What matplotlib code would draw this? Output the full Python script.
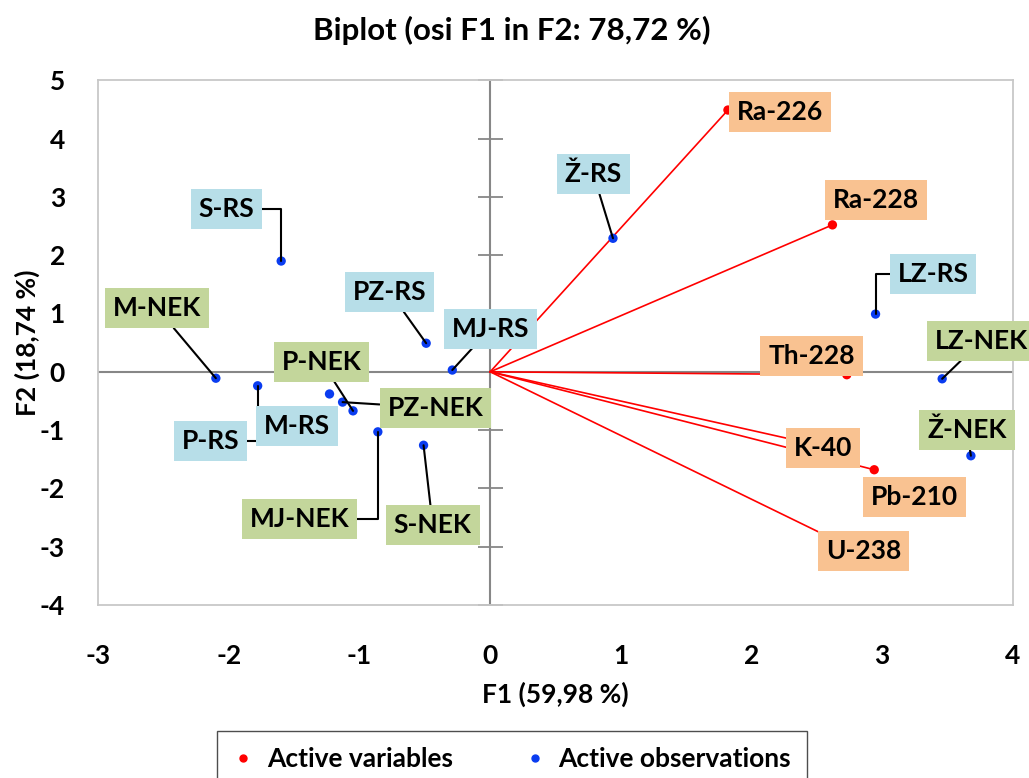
import numpy as np
import matplotlib
matplotlib.use("Agg")
import matplotlib.pyplot as plt
from matplotlib.lines import Line2D

plt.rcParams["font.family"] = ["Lato", "DejaVu Sans"]
plt.rcParams["font.weight"] = "bold"
plt.rcParams["axes.unicode_minus"] = False

# ==== data ====
var_names = ["Ra-226", "Ra-228", "Th-228", "K-40", "Pb-210", "U-238"]
var_x = [1.82, 2.62, 2.73, 2.55, 2.94, 2.70]
var_y = [4.49, 2.52, -0.05, -1.28, -1.68, -2.95]

obs_names = ["Ž-RS", "S-RS", "LZ-RS", "LZ-NEK", "Ž-NEK", "M-NEK", "P-RS",
             "M-RS", "PZ-NEK", "P-NEK", "MJ-NEK", "S-NEK", "MJ-RS", "PZ-RS"]
obs_x = [0.94, -1.60, 2.95, 3.46, 3.68, -2.10, -1.78,
         -1.23, -1.13, -1.05, -0.86, -0.51, -0.29, -0.49]
obs_y = [2.29, 1.90, 0.99, -0.12, -1.44, -0.11, -0.24,
         -0.38, -0.52, -0.67, -1.03, -1.26, 0.03, 0.49]
obs_group = ["RS", "RS", "RS", "NEK", "NEK", "NEK", "RS",
             "RS", "NEK", "NEK", "NEK", "NEK", "RS", "RS"]

xticks = [-3, -2, -1, 0, 1, 2, 3, 4]
yticks = [-4, -3, -2, -1, 0, 1, 2, 3, 4, 5]

# ==== label layout ====
var_label_pos = [(2.22, 4.46), (2.95, 2.95), (2.46, 0.27), (2.55, -1.31),
                 (3.25, -2.15), (2.86, -3.07)]
obs_label_pos = [(0.79, 3.39), (-2.02, 2.79), (3.39, 1.68), (3.76, 0.53),
                 (3.65, -1.00), (-2.55, 1.09), (-2.14, -1.19), (-1.48, -0.93),
                 (-0.42, -0.62), (-1.29, 0.17), (-1.46, -2.53), (-0.44, -2.63),
                 (0.00, 0.74), (-0.77, 1.37)]
elbow = {"S-RS", "LZ-RS", "P-RS", "MJ-NEK"}
no_leader = {"M-RS"}

ORANGE = "#F9C291"
BLUE_BOX = "#B7DEE8"
GREEN_BOX = "#C3D69B"
RED = "#FF0000"
BLUE = "#0A3CF0"
FS = 19

fig = plt.figure(figsize=(10.29, 7.78), dpi=100)
ax = fig.add_axes([98.3 / 1029, 1 - 605 / 778, (1012.7 - 98.3) / 1029, (605 - 80.3) / 778])
ax.set_xlim(-3, 4)
ax.set_ylim(-4, 5)

for s in ax.spines.values():
    s.set_color("#C8C8C8")
    s.set_linewidth(1.3)

# centre axes, ticks only on the vertical one
ax.axhline(0, color="#878787", lw=1.5, zorder=1)
ax.axvline(0, color="#878787", lw=1.5, zorder=1)
ax.plot(np.zeros(len(yticks)), yticks, ls="", marker="_", ms=18, mew=1.3,
        color="#878787", zorder=1, clip_on=False)

ax.set_xticks(xticks)
ax.set_yticks(yticks)
ax.tick_params(length=0, labelsize=FS)
ax.tick_params(axis="x", pad=28)
ax.tick_params(axis="y", pad=24)
for lab in ax.get_xticklabels() + ax.get_yticklabels():
    lab.set_fontweight("bold")

# vectors for variables
for x, y in zip(var_x, var_y):
    ax.plot([0, x], [0, y], color=RED, lw=1.2, zorder=2)
ax.scatter(var_x, var_y, s=45, color=RED, zorder=3, edgecolors="none")
ax.scatter(obs_x, obs_y, s=45, color=BLUE, zorder=3, edgecolors="none")

for name, (lx, ly) in zip(var_names, var_label_pos):
    ax.annotate(name, xy=(lx, ly), ha="center", va="center", fontsize=FS,
                fontweight="bold", zorder=5,
                bbox=dict(boxstyle="square,pad=0.3", fc=ORANGE, ec="none"))

for name, x, y, g, (lx, ly) in zip(obs_names, obs_x, obs_y, obs_group, obs_label_pos):
    fc = BLUE_BOX if g == "RS" else GREEN_BOX
    bbox = dict(boxstyle="square,pad=0.3", fc=fc, ec="none")
    if name in no_leader:
        ax.annotate(name, xy=(lx, ly), ha="center", va="center", fontsize=FS,
                    fontweight="bold", zorder=5, bbox=bbox)
        continue
    cs = "angle,angleA=0,angleB=90,rad=0" if name in elbow else "arc3"
    ax.annotate(name, xy=(x, y), xytext=(lx, ly), ha="center", va="center",
                fontsize=FS, fontweight="bold", zorder=5, bbox=bbox,
                arrowprops=dict(arrowstyle="-", color="black", lw=1.5,
                                shrinkA=0, shrinkB=0, connectionstyle=cs))

ax.set_xlabel("F1 (59,98 %)", fontsize=FS, fontweight="bold", labelpad=10)
ax.set_ylabel("F2 (18,74 %)", fontsize=FS, fontweight="bold", labelpad=0)
fig.text(0.497, 1 - 30 / 778, "Biplot (osi F1 in F2: 78,72 %)", ha="center",
         va="center", fontsize=22.5, fontweight="bold")

handles = [
    Line2D([], [], ls="", marker="o", ms=5, color=RED, label="Active variables"),
    Line2D([], [], ls="", marker="o", ms=5, color=BLUE, label="Active observations"),
]
leg = fig.legend(handles=handles, loc="upper center", bbox_to_anchor=(512 / 1029, 1 - 731 / 778),
                 ncol=2, frameon=True, fancybox=False, handlelength=0.8,
                 handletextpad=0.5, columnspacing=2.7, borderpad=0.6, borderaxespad=0,
                 prop={"weight": "bold", "size": FS})
leg.get_frame().set_edgecolor("#222222")
leg.get_frame().set_linewidth(1.0)

plt.savefig("out.png", dpi=100)
